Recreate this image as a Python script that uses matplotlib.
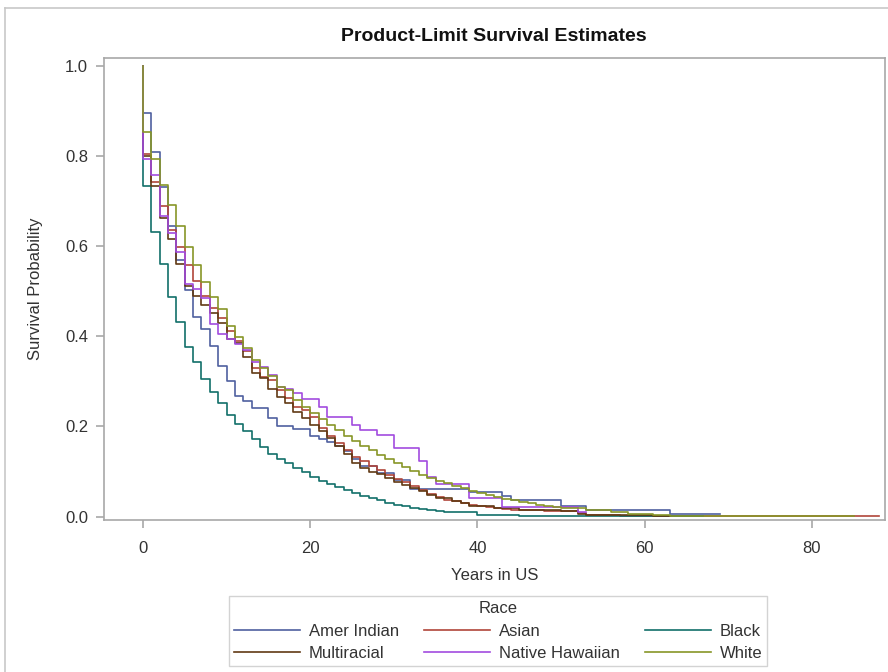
"""
Product-limit (Kaplan-Meier) survival curves by race, redrawn in matplotlib.
Values were read off the SAS plot by eye, so treat them as approximate.
"""

import matplotlib
matplotlib.use("Agg")
import matplotlib.pyplot as plt
from matplotlib.lines import Line2D

plt.rcParams["font.family"] = ["Liberation Sans", "DejaVu Sans"]

# (year, survival) change points for each group; the curve holds its value
# until the next change point
amer_indian = [(0, .895), (1, .808), (2, .730), (3, .644), (4, .568), (5, .503),
               (6, .442), (7, .416), (8, .379), (9, .335), (10, .300), (11, .268),
               (12, .256), (13, .241), (15, .219), (16, .202), (18, .194), (20, .178),
               (21, .172), (22, .166), (23, .157), (24, .145), (25, .128), (26, .113),
               (28, .098), (30, .082), (32, .061), (39, .054), (43, .045), (44, .038),
               (50, .023), (53, .0155), (63, .0067)]
asian = [(0, .804), (1, .742), (2, .688), (3, .636), (4, .597), (5, .557), (6, .522),
         (7, .490), (8, .463), (9, .441), (10, .411), (11, .389), (12, .367), (13, .330),
         (14, .310), (15, .304), (16, .282), (17, .263), (18, .243), (19, .237),
         (20, .221), (21, .196), (22, .178), (23, .163), (24, .147), (25, .132),
         (26, .123), (27, .113), (28, .104), (29, .093), (30, .084), (31, .078),
         (32, .069), (33, .060), (34, .050), (35, .044), (36, .038), (37, .034),
         (38, .030), (39, .027), (40, .024), (41, .021), (42, .019), (43, .017),
         (44, .0155), (48, .012), (52, .008), (53, .0044), (57, .002)]
black = [(0, .734), (1, .631), (2, .560), (3, .488), (4, .431), (5, .376), (6, .342),
         (7, .305), (8, .276), (9, .252), (10, .225), (11, .206), (12, .189), (13, .172),
         (14, .154), (15, .140), (16, .128), (17, .118), (18, .108), (19, .099),
         (20, .089), (21, .080), (22, .072), (23, .066), (24, .060), (25, .053),
         (26, .047), (27, .041), (28, .036), (29, .031), (30, .027), (31, .023),
         (32, .020), (33, .017), (34, .015), (35, .013), (36, .0096), (40, .0044),
         (45, .002)]
multiracial = [(0, .799), (1, .733), (2, .662), (3, .616), (4, .560), (5, .512),
               (6, .489), (7, .470), (8, .452), (9, .430), (10, .394), (11, .385),
               (12, .355), (13, .319), (14, .308), (15, .283), (16, .265), (17, .251),
               (18, .232), (19, .219), (20, .204), (21, .189), (22, .174), (23, .156),
               (24, .140), (25, .119), (26, .108), (27, .100), (28, .095), (29, .086),
               (30, .078), (31, .071), (32, .064), (33, .056), (34, .049), (35, .041),
               (37, .034), (38, .030), (39, .023), (42, .019), (45, .0155), (50, .012),
               (52, .0067), (53, .0044), (61, .002)]
native_hawaiian = [(0, .792), (1, .758), (2, .667), (3, .629), (4, .586), (5, .516),
                   (6, .505), (7, .484), (8, .427), (9, .405), (10, .395), (11, .383),
                   (12, .370), (13, .344), (14, .332), (15, .315), (16, .287), (17, .283),
                   (18, .274), (19, .262), (21, .243), (22, .221), (25, .203), (26, .193),
                   (28, .182), (30, .152), (33, .123), (34, .089), (35, .072), (39, .041),
                   (43, .021), (52, .0096)]
white = [(0, .852), (1, .793), (2, .736), (3, .690), (4, .644), (5, .597), (6, .557),
         (7, .520), (8, .487), (9, .461), (10, .422), (11, .398), (12, .374), (13, .348),
         (14, .330), (15, .313), (16, .288), (17, .282), (18, .259), (19, .243),
         (20, .230), (21, .217), (22, .204), (23, .193), (24, .178), (25, .167),
         (26, .157), (27, .147), (28, .137), (29, .129), (30, .119), (31, .110),
         (32, .102), (33, .093), (34, .086), (35, .080), (36, .075), (37, .069),
         (38, .063), (39, .057), (40, .052), (41, .048), (42, .044), (43, .040),
         (44, .036), (45, .033), (46, .030), (47, .027), (48, .024), (49, .022),
         (50, .020), (51, .019), (53, .014), (56, .0096), (58, .0067), (61, .0044),
         (63, .002)]

# last follow-up time of each group (where the line stops)
last_time = [69, 88, 67, 63, 53, 85]

race_names = ["Amer Indian", "Asian", "Black", "Multiracial", "Native Hawaiian", "White"]
race_colors = ["#4F60A0", "#B0453A", "#12706A", "#613A14", "#A24BDF", "#879628"]
curves = [amer_indian, asian, black, multiracial, native_hawaiian, white]

AXIS_GRAY = "#A8A8A8"
TEXT = "#333333"

fig = plt.figure(figsize=(8.88, 6.72), dpi=100)
ax = fig.add_axes([103.5 / 888, 1 - 520 / 672, (885 - 103.5) / 888, (520 - 57.5) / 672])

for name, col, pts, tend in zip(race_names, race_colors, curves, last_time):
    times = [p[0] for p in pts]
    surv = [p[1] for p in pts]
    # KM curve starts at 1.0 and steps down
    xs = [0] + times + [tend]
    ys = [1.0] + surv + [surv[-1]]
    ax.plot(xs, ys, drawstyle="steps-post", color=col, lw=1.2, label=name)

ax.set_xlim(-4.71, 88.74)
ax.set_ylim(-0.0073, 1.018)
ax.set_xticks([0, 20, 40, 60, 80])
ax.set_yticks([0.0, 0.2, 0.4, 0.6, 0.8, 1.0])
ax.set_yticklabels(["0.0", "0.2", "0.4", "0.6", "0.8", "1.0"])

for sp in ax.spines.values():
    sp.set_color(AXIS_GRAY)
    sp.set_linewidth(1.2)
ax.tick_params(colors=AXIS_GRAY, labelcolor=TEXT, labelsize=12, length=6,
               width=1.2, direction="out")
ax.tick_params(axis="x", pad=9)
ax.tick_params(axis="y", pad=5)

ax.set_xlabel("Years in US", fontsize=12, color=TEXT, labelpad=9)
ax.set_ylabel("Survival Probability", fontsize=12, color=TEXT, labelpad=16)
ax.set_title("Product-Limit Survival Estimates", fontsize=14, fontweight="bold",
             color="#111111", pad=12)

# legend: 3 columns, filled column-wise so rows read as in the original
handles, labels = ax.get_legend_handles_labels()
order = [0, 3, 1, 4, 2, 5]
leg = fig.legend([handles[i] for i in order], [labels[i] for i in order],
                 loc="center", bbox_to_anchor=(498 / 888, 1 - 631 / 672), ncol=3,
                 title="Race", fontsize=12, title_fontsize=12, frameon=True,
                 fancybox=False, handlelength=4.0, handletextpad=0.5,
                 columnspacing=1.5, labelspacing=0.45, borderpad=0.3)
leg.get_frame().set_edgecolor("#C8C8C8")
leg.get_frame().set_linewidth(1.0)
for txt in leg.get_texts():
    txt.set_color(TEXT)
leg.get_title().set_color(TEXT)

# light outer border of the graph area
fig.add_artist(Line2D([5 / 888, 5 / 888], [0, 1 - 8 / 672], color="#C8C8C8", lw=1.2))
fig.add_artist(Line2D([5 / 888, 1], [1 - 8 / 672, 1 - 8 / 672], color="#C8C8C8", lw=1.2))

fig.savefig("out.png", dpi=100)
